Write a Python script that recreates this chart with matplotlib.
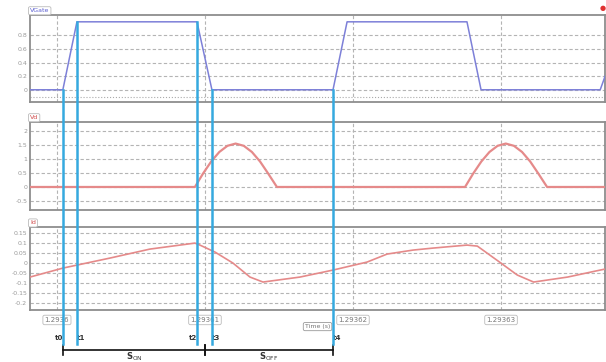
import numpy as np
import matplotlib.pyplot as plt
from matplotlib.lines import Line2D
from matplotlib import transforms

# time axis in microseconds after 1.2936 s
t_min, t_max = -1.82, 37.03
x_ticks = [0.0, 10.0, 20.0, 30.0]
x_tick_labels = ['1.2936', '1.29361', '1.29362', '1.29363']

# gate voltage (trapezoid)
gate_t = [-1.82, 0.4, 1.35, 9.46, 10.47, 18.65, 19.6, 27.7, 28.65, 36.7, 37.03]
gate_v = [0.0, 0.0, 1.0, 1.0, 0.0, 0.0, 1.0, 1.0, 0.0, 0.0, 0.2]

# drain voltage (half-sine bumps while switch is off)
vd_t = [-1.82, 9.32, 9.87, 10.42, 10.97, 11.52, 12.07, 12.62, 13.17, 13.72, 14.27, 14.86,
        27.57, 28.12, 28.67, 29.22, 29.77, 30.32, 30.87, 31.42, 31.97, 32.52, 33.11, 37.03]
vd_v = [0.0, 0.0, 0.48, 0.91, 1.25, 1.47, 1.55, 1.47, 1.25, 0.91, 0.48, 0.0,
        0.0, 0.48, 0.91, 1.25, 1.47, 1.55, 1.47, 1.25, 0.91, 0.48, 0.0, 0.0]

# third trace
i_t = [-1.82, 0.41, 3.58, 6.28, 9.32, 9.66, 10.68, 11.89, 13.04, 13.92, 16.42, 18.65,
       20.95, 22.3, 24.05, 25.4, 27.7, 28.4, 29.9, 31.1, 32.2, 34.5, 36.7, 37.03]
i_v = [-0.07, -0.025, 0.025, 0.07, 0.10, 0.09, 0.055, 0.0, -0.07, -0.095, -0.07, -0.035,
       0.005, 0.045, 0.065, 0.075, 0.09, 0.085, 0.005, -0.06, -0.095, -0.07, -0.035, -0.03]

# switching instants
marks = ['t0', 't1', 't2', 't3', 't4']
mark_t = [0.4, 1.35, 9.46, 10.47, 18.65]
mark_start = [0.0, 1.0, 1.0, 0.0, 0.0]   # gate level where each line starts
son_span = [0.4, 10.0]
soff_span = [10.0, 18.65]

grid_c = '#b4b4b4'
frame_c = '#8e8e8e'
cyan = '#35a9df'

fig = plt.figure(figsize=(6.06, 3.62), dpi=100)
ax1 = fig.add_axes([0.0495, 0.7182, 0.949, 0.2403])
ax2 = fig.add_axes([0.0495, 0.4200, 0.949, 0.2430])
ax3 = fig.add_axes([0.0495, 0.1436, 0.949, 0.2290])

panels = [
    (ax1, gate_t, gate_v, '#7d80d8', 1.1, (-0.18, 1.1), [0, 0.2, 0.4, 0.6, 0.8], 'VGate', '#5b5fd0'),
    (ax2, vd_t, vd_v, '#e58a8a', 1.6, (-0.82, 2.32), [-0.5, 0, 0.5, 1.0, 1.5, 2.0], 'Vd', '#d04848'),
    (ax3, i_t, i_v, '#e58a8a', 1.2, (-0.235, 0.18),
     [-0.2, -0.15, -0.1, -0.05, 0, 0.05, 0.1, 0.15], 'Id', '#d04848'),
]
for ax, tt, vv, col, lw, ylim, yt, name, ncol in panels:
    ax.plot(tt, vv, color=col, lw=lw, zorder=3)
    ax.set_xlim(t_min, t_max)
    ax.set_ylim(*ylim)
    ax.set_yticks(yt)
    ax.set_yticklabels([f'{v:g}' for v in yt], fontsize=4.5, color='#9a9a9a')
    ax.set_xticks(x_ticks)
    ax.grid(True, color=grid_c, lw=0.8, ls=(0, (3, 2)))
    ax.tick_params(length=0, pad=2)
    for s in ax.spines.values():
        s.set_color(frame_c)
        s.set_linewidth(1.3)
    ax.text(0.0, 1.02, name, transform=ax.transAxes, fontsize=4.5, color=ncol,
            va='bottom', ha='left',
            bbox=dict(boxstyle='round,pad=0.25', fc='white', ec='#bbbbbb', lw=0.6))

ax1.axhline(-0.1, color='#aaaaaa', lw=0.8, ls=':')
ax1.set_xticklabels([])
ax2.set_xticklabels([])
ax3.set_xticklabels(x_tick_labels, fontsize=5, color='#777777')
for lab in ax3.get_xticklabels():
    lab.set_bbox(dict(boxstyle='round,pad=0.25', fc='white', ec='#bbbbbb', lw=0.6))
ax3.tick_params(axis='x', pad=5)
ax3.text(0.5, -0.17, 'Time (s)', transform=ax3.transAxes, fontsize=4.5, color='#777777',
         ha='center', va='top',
         bbox=dict(boxstyle='round,pad=0.25', fc='white', ec='#999999', lw=0.6))

# red marker at top right
fig.text(0.995, 0.978, '\u25cf', color='#e03030', fontsize=5, ha='center', va='center')

# switching instant lines across panels
blend = transforms.blended_transform_factory(ax1.transData, fig.transFigure)
to_fig = fig.transFigure.inverted()
y_line_bot = 0.05
for i, (name, t) in enumerate(zip(marks, mark_t)):
    y_top = to_fig.transform(ax1.transData.transform((t, mark_start[i])))[1]
    fig.add_artist(Line2D([t, t], [y_top, y_line_bot], transform=blend, color=cyan,
                          lw=1.8, zorder=5))
    left = name in ('t0', 't2')
    fig.text(t, 0.066, name, transform=blend, fontsize=5, fontweight='bold',
             color='#333333', ha='right' if left else 'left', va='center')

# Son / Soff bars
y_bar = 0.033
for span, lab in [(son_span, r'S$_{\mathrm{ON}}$'), (soff_span, r'S$_{\mathrm{OFF}}$')]:
    fig.add_artist(Line2D(span, [y_bar, y_bar], transform=blend, color='#111111', lw=1.2))
    for t in span:
        fig.add_artist(Line2D([t, t], [y_bar - 0.014, y_bar + 0.014], transform=blend,
                              color='#111111', lw=1.2))
    fig.text(sum(span) / 2, -0.004, lab, transform=blend, fontsize=6, fontweight='bold',
             color='#333333', ha='center', va='bottom')

fig.savefig('out.png', dpi=100)
